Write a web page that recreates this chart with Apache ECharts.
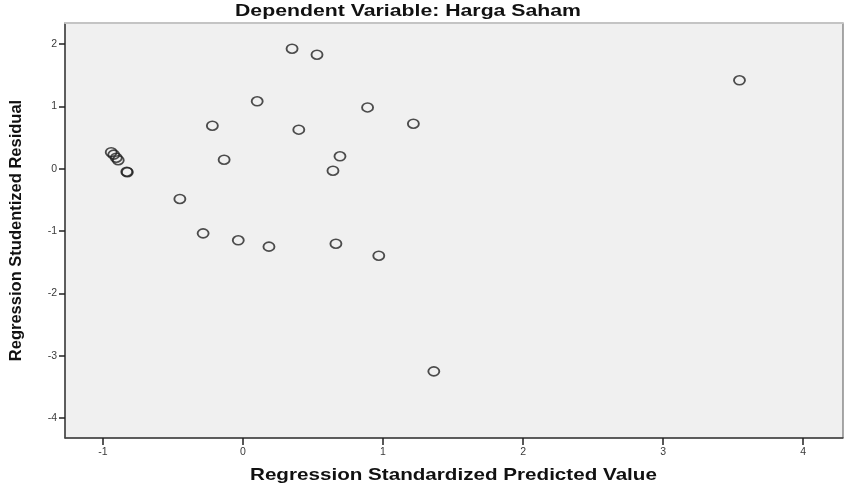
<!DOCTYPE html>
<html>
<head>
<meta charset="utf-8">
<script src="https://cdn.jsdelivr.net/npm/echarts@6/dist/echarts.min.js"></script>
<style>
html,body{margin:0;padding:0;background:#fff;}
#chart{width:849px;height:489px;}
</style>
</head>
<body>
<div id="chart"></div>
<script>
var titleText = "Dependent Variable: Harga Saham";
var xAxisTitle = "Regression Standardized Predicted Value";
var yAxisTitle = "Regression Studentized Residual";

var xTicks = [-1, 0, 1, 2, 3, 4];
var yTicks = [-4, -3, -2, -1, 0, 1, 2];

var predictedValues = [
  -0.940, -0.922, -0.904, -0.890, -0.829, -0.825,
  -0.450, -0.284, -0.218, -0.134, -0.033,
  0.102, 0.186, 0.351, 0.529, 0.399,
  0.643, 0.664, 0.693, 0.890, 0.970,
  1.217, 1.363, 3.545
];
var studentizedResiduals = [
  0.265, 0.225, 0.176, 0.136, -0.048, -0.056,
  -0.486, -1.038, 0.690, 0.144, -1.150,
  1.080, -1.251, 1.925, 1.829, 0.626,
  -0.032, -1.203, 0.198, 0.983, -1.396,
  0.722, -3.252, 1.417
];

var points = predictedValues.map(function (x, i) { return [x, studentizedResiduals[i]]; });

var chart = echarts.init(document.getElementById('chart'), null, {renderer: 'canvas'});
var xMin = -1.27, xMax = 4.284, yMin = -4.321, yMax = 2.337;
var labelStyle = {color: '#3a3a3a', fontSize: 10.5, fontFamily: 'Liberation Sans, Arial, sans-serif'};

chart.setOption({
  backgroundColor: '#ffffff',
  animation: false,
  grid: {
    left: 62, right: 6, top: 23, bottom: 51,
    show: true, backgroundColor: '#f0f0f0', borderColor: '#555555', borderWidth: 1
  },
  xAxis: [{
    type: 'value', min: xMin, max: xMax, position: 'bottom',
    axisLine: {show: true, onZero: false, lineStyle: {color: '#444444', width: 1.5}},
    axisTick: {show: true, length: 7, customValues: xTicks, lineStyle: {color: '#222222', width: 1.5}},
    axisLabel: Object.assign({customValues: xTicks, margin: 9}, labelStyle),
    splitLine: {show: false}
  }, {
    type: 'value', min: xMin, max: xMax, position: 'top',
    axisLine: {show: true, onZero: false, lineStyle: {color: '#c4c4c4', width: 2}},
    axisTick: {show: false}, axisLabel: {show: false}, splitLine: {show: false}
  }],
  yAxis: [{
    type: 'value', min: yMin, max: yMax, position: 'left',
    name: yAxisTitle, nameLocation: 'middle', nameGap: 40, nameRotate: 90,
    nameTextStyle: {fontSize: 16.5, fontWeight: 'bold', color: '#111111', fontFamily: 'Liberation Sans, Arial, sans-serif'},
    axisLine: {show: true, onZero: false, lineStyle: {color: '#444444', width: 1.5}},
    axisTick: {show: true, length: 6, customValues: yTicks, lineStyle: {color: '#222222', width: 1.5}},
    axisLabel: Object.assign({customValues: yTicks, margin: 8}, labelStyle),
    splitLine: {show: false}
  }],
  graphic: [{
    type: 'text', left: 235, top: 3,
    scaleX: 1.25,
    style: {text: titleText, fontSize: 17, fontWeight: 'bold', fill: '#111111', fontFamily: 'Liberation Sans, Arial, sans-serif'}
  }, {
    type: 'text', left: 250, top: 467,
    scaleX: 1.25,
    style: {text: xAxisTitle, fontSize: 16.5, fontWeight: 'bold', fill: '#111111', fontFamily: 'Liberation Sans, Arial, sans-serif'}
  }],
  series: [{
    type: 'scatter',
    data: points,
    symbol: 'circle',
    symbolSize: [11, 9],
    itemStyle: {color: 'rgba(240,240,240,0)', borderColor: '#222222', borderWidth: 1.7}
  }]
});
</script>
</body>
</html>
